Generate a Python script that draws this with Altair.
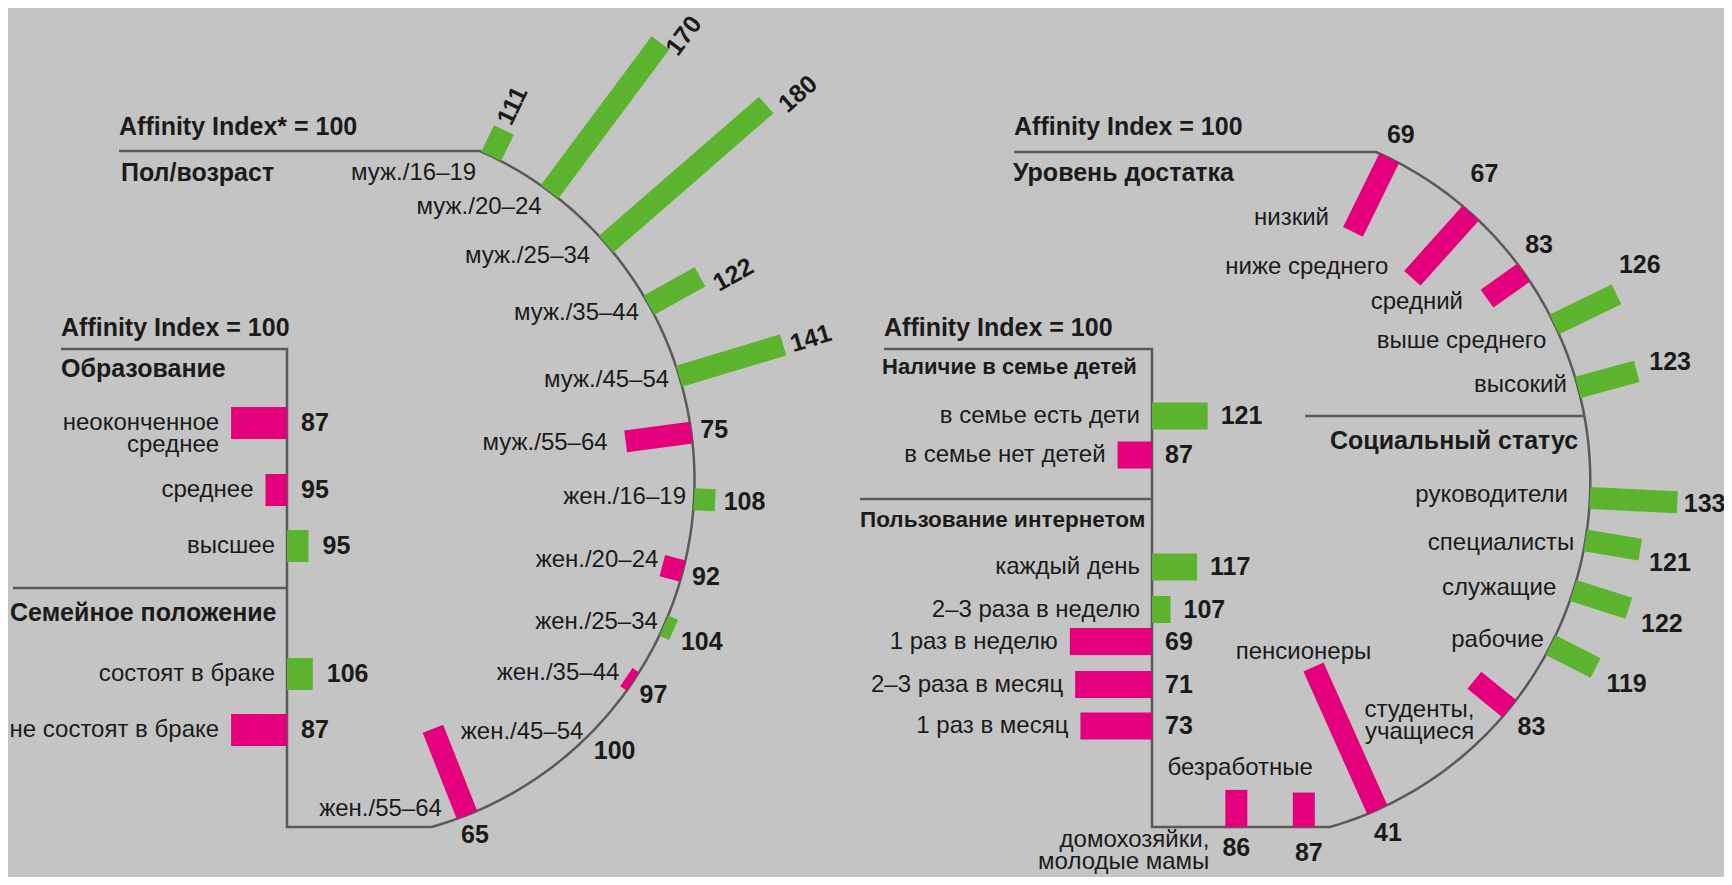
import math
import altair as alt
import pandas as pd

# ---------------- data ----------------
age_labels = ["муж./16–19", "муж./20–24", "муж./25–34", "муж./35–44", "муж./45–54",
              "муж./55–64", "жен./16–19", "жен./20–24", "жен./25–34", "жен./35–44",
              "жен./45–54", "жен./55–64"]
age_values = [111, 170, 180, 122, 141, 75, 108, 92, 104, 97, 100, 65]

wealth_labels = ["низкий", "ниже среднего", "средний", "выше среднего", "высокий"]
wealth_values = [69, 67, 83, 126, 123]

status_labels = ["руководители", "специалисты", "служащие", "рабочие",
                 "студенты,\nучащиеся", "пенсионеры", "безработные",
                 "домохозяйки,\nмолодые мамы"]
status_values = [133, 121, 122, 119, 83, 41, 87, 86]

edu_labels = ["неоконченное\nсреднее", "среднее", "высшее"]
edu_values = [87, 95, 95]

marital_labels = ["состоят в браке", "не состоят в браке"]
marital_values = [106, 87]

kids_labels = ["в семье есть дети", "в семье нет детей"]
kids_values = [121, 87]

net_labels = ["каждый день", "2–3 раза в неделю", "1 раз в неделю",
              "2–3 раза в месяц", "1 раз в месяц"]
net_values = [117, 107, 69, 71, 73]

# ---------------- layout / style ----------------
BG = "#c4c4c4"
GREEN = "#5cb42e"
MAGENTA = "#e4007d"
LINE = "#5a5a5a"
INK = "#1b1b1b"
FONT = "Liberation Sans, Arial, Helvetica, sans-serif"

K = 2.65  # px per index point (radial charts and right bar panel)

LEFT = dict(cx=334.5, cy=480.3, r=360, top_y=151, top_x0=119, bottom_y=827,
            axis_x=287, inner_top=349, inner_x0=61)
RIGHT = dict(cx=1230.3, cy=481.1, r=360, top_y=152, top_x0=1014, bottom_y=827,
             axis_x=1152, inner_top=349, inner_x0=884)

age_angles = [64.2, 53.3, 41.0, 29.1, 16.8, 7.6, -3.0, -14.6, -23.8, -34.0, -44.0, -68.4]
age_lab_off = [(-15, 17), (-8, 15), (-16, 12), (-10, 8), (-10, 4), (-18, 1.5),
               (-8, -2), (-4, -6), (-6, -4), (-7, -4), (-10, 2), (9, 80)]
age_lab_align = ["right"] * 12
age_val_nudge = [(-4, 2), (6, 16), (10, 8), (8, 12), (0, 2), (0, 0),
                 (0, 0), (0, 0), (0, 0), (0, 0), (0, 0), (0, 0)]

wealth_angles = [63.8, 48.1, 35.4, 25.8, 15.1]
wealth_lab_off = [(-24, -14), (-24, -11), (-24, 3), (-8, 17), (-11, -2)]
wealth_lab_align = ["right"] * 5
wealth_val_nudge = [(0, 0), (-5, -18), (-8, -11), (-8, -14), (0, 0)]

status_angles = [-2.7, -9.5, -17.7, -27.1, -39.2, -65.9, -78.0, -89.0]
status_lab_off = [(-22, -3), (-11, 2.5), (-17, -2.5), (-7, -5), (0, 30),
                  (-10, -15), (9, -25), (-27, 50)]
status_lab_align = ["right", "right", "right", "right", "right", "center", "right", "right"]
status_val_nudge = [(-6, 0), (-4, 8), (0, 5), (0, 0), (0, 0), (0, 0), (5, 5), (0, 0)]

edu_rows = [423, 490, 546]
edu_side = [-1, -1, 1]          # the reference draws "высшее" as a bar to the right
marital_rows = [674, 730]
kids_rows = [416, 455]
net_rows = [567, 609.5, 641.5, 684.5, 726]
K_LEFT_PANEL = 4.3


def radial(labels, values, angles, geo, lab_off, lab_align, val_nudge, gap, rot_min=None):
    bars, cats, vals = [], [], []
    for lab, v, a, (ldx, ldy), al, (ndx, ndy) in zip(labels, values, angles, lab_off,
                                                     lab_align, val_nudge):
        t = math.radians(a)
        ux, uy = math.cos(t), -math.sin(t)
        by = geo["cy"] + geo["r"] * uy
        if by > geo["bottom_y"]:
            s = (geo["bottom_y"] - geo["cy"]) / uy
            bx, by = geo["cx"] + s * ux, geo["bottom_y"]
            ux, uy = 0.0, 1.0
        else:
            bx = geo["cx"] + geo["r"] * ux
        L = K * (v - 100)
        ex, ey = bx + L * ux, by + L * uy
        if v != 100:
            bars.append(dict(x=bx, y=by, x2=ex, y2=ey, col="up" if v > 100 else "down",
                             w=22))
        ox, oy = (ex, ey) if v > 100 else (bx, by)
        ix, iy = (bx, by) if v >= 100 else (ex, ey)
        cats.append(dict(x=ix + ldx, y=iy + ldy, text=lab, align=al))
        txt = str(v)
        wdt = 14 * len(txt)
        if rot_min is not None and a > rot_min:
            d = gap + wdt / 2
            rot = 360 - a
        else:
            d = gap + abs(ux) * wdt / 2 + abs(uy) * 9
            rot = 0
        vals.append(dict(x=ox + d * ux + ndx, y=oy + d * uy + ndy, text=txt, rot=rot))
    return bars, cats, vals


def outline(geo, name):
    pts = [(geo["top_x0"], geo["top_y"])]
    a0 = math.asin((geo["cy"] - geo["top_y"]) / geo["r"])
    a1 = -math.asin((geo["bottom_y"] - geo["cy"]) / geo["r"])
    n = 120
    for i in range(n + 1):
        a = a0 + (a1 - a0) * i / n
        pts.append((geo["cx"] + geo["r"] * math.cos(a), geo["cy"] - geo["r"] * math.sin(a)))
    pts += [(geo["axis_x"], geo["bottom_y"]), (geo["axis_x"], geo["inner_top"]),
            (geo["inner_x0"], geo["inner_top"])]
    return [dict(path=name, i=i, x=x, y=y) for i, (x, y) in enumerate(pts)]


def hbars(labels, values, rows, axis, k, h, sides=None, lgap=12, vgap=13):
    bars, labs, vals = [], [], []
    for j, (lab, v, y) in enumerate(zip(labels, values, rows)):
        delta = v - 100
        if sides is not None:
            delta = abs(delta) * sides[j]
        xe = axis + k * delta
        bars.append(dict(x=axis, y=y, x2=xe, y2=y, col="up" if delta > 0 else "down", w=h))
        labs.append(dict(x=min(axis, xe) - lgap, y=y, text=lab))
        vals.append(dict(x=max(axis, xe) + vgap, y=y, text=str(v)))
    return bars, labs, vals


# radial charts
b1, c1, v1 = radial(age_labels, age_values, age_angles, LEFT, age_lab_off, age_lab_align,
                    age_val_nudge, gap=8, rot_min=12)
b2, c2, v2 = radial(wealth_labels, wealth_values, wealth_angles, RIGHT, wealth_lab_off,
                    wealth_lab_align, wealth_val_nudge, gap=12)
b3, c3, v3 = radial(status_labels, status_values, status_angles, RIGHT, status_lab_off,
                    status_lab_align, status_val_nudge, gap=12)

# inner bar panels
h1, l1, w1 = hbars(edu_labels, edu_values, edu_rows, LEFT["axis_x"], K_LEFT_PANEL, 32,
                   edu_side, lgap=12, vgap=14)
h2, l2, w2 = hbars(marital_labels, marital_values, marital_rows, LEFT["axis_x"],
                   K_LEFT_PANEL, 32, lgap=12, vgap=14)
h3, l3, w3 = hbars(kids_labels, kids_values, kids_rows, RIGHT["axis_x"], K, 27)
h4, l4, w4 = hbars(net_labels, net_values, net_rows, RIGHT["axis_x"], K, 27)

bars_df = pd.DataFrame(b1 + b2 + b3 + h1 + h2 + h3 + h4)
cats_df = pd.DataFrame(c1 + c2 + c3)
vals_df = pd.DataFrame(v1 + v2 + v3)
ilab_df = pd.DataFrame(l1 + l2 + l3 + l4)
ival_df = pd.DataFrame(w1 + w2 + w3 + w4)

sep_y_right = 416
sep_x_end = RIGHT["cx"] + math.sqrt(RIGHT["r"] ** 2 - (sep_y_right - RIGHT["cy"]) ** 2)
lines = outline(LEFT, "L") + outline(RIGHT, "R")
lines += [dict(path="s1", i=0, x=13, y=588), dict(path="s1", i=1, x=LEFT["axis_x"], y=588),
          dict(path="s2", i=0, x=860, y=499), dict(path="s2", i=1, x=RIGHT["axis_x"], y=499),
          dict(path="s3", i=0, x=1305, y=sep_y_right),
          dict(path="s3", i=1, x=sep_x_end, y=sep_y_right)]
lines_df = pd.DataFrame(lines)

titles_df = pd.DataFrame([
    dict(x=119, y=127, text="Affinity Index* = 100", fs=25),
    dict(x=121, y=173, text="Пол/возраст", fs=25),
    dict(x=1014, y=127, text="Affinity Index = 100", fs=25),
    dict(x=1013, y=173, text="Уровень достатка", fs=25),
    dict(x=61, y=328, text="Affinity Index = 100", fs=25),
    dict(x=61, y=369, text="Образование", fs=25),
    dict(x=10, y=613, text="Семейное положение", fs=25),
    dict(x=884, y=328, text="Affinity Index = 100", fs=25),
    dict(x=882, y=367, text="Наличие в семье детей", fs=22),
    dict(x=860, y=520, text="Пользование интернетом", fs=22.5),
    dict(x=1330, y=441, text="Социальный статус", fs=25),
])

XS = alt.Scale(domain=[8, 1724], nice=False, zero=False)
YS = alt.Scale(domain=[877, 8], nice=False, zero=False)
X = alt.X("x:Q", scale=XS, axis=None)
Y = alt.Y("y:Q", scale=YS, axis=None)
COL = alt.Color("col:N", scale=alt.Scale(domain=["up", "down"], range=[GREEN, MAGENTA]),
                legend=None)

outline_layer = alt.Chart(lines_df).mark_line(color=LINE, strokeWidth=2.5).encode(
    x=X, y=Y, detail="path:N", order="i:Q")

bars_layer = alt.Chart(bars_df).mark_rule(strokeCap="butt").encode(
    x=X, y=Y, x2="x2:Q", y2="y2:Q", color=COL,
    strokeWidth=alt.StrokeWidth("w:Q", scale=None))

cat_right = alt.Chart(cats_df).transform_filter(alt.datum.align == "right").mark_text(
    align="right", baseline="middle", font=FONT, fontSize=24, color=INK,
    lineBreak="\n", lineHeight=22).encode(x=X, y=Y, text="text:N")

cat_center = alt.Chart(cats_df).transform_filter(alt.datum.align == "center").mark_text(
    align="center", baseline="middle", font=FONT, fontSize=24, color=INK,
    lineBreak="\n", lineHeight=22).encode(x=X, y=Y, text="text:N")

val_layer = alt.Chart(vals_df).mark_text(
    align="center", baseline="middle", font=FONT, fontSize=25, fontWeight="bold",
    color=INK).encode(x=X, y=Y, text="text:N", angle=alt.Angle("rot:Q", scale=None))

ilab_layer = alt.Chart(ilab_df).mark_text(
    align="right", baseline="middle", font=FONT, fontSize=24, color=INK,
    lineBreak="\n", lineHeight=22).encode(x=X, y=Y, text="text:N")

ival_layer = alt.Chart(ival_df).mark_text(
    align="left", baseline="middle", font=FONT, fontSize=25, fontWeight="bold",
    color=INK).encode(x=X, y=Y, text="text:N")

title_layer = alt.Chart(titles_df).mark_text(
    align="left", baseline="middle", font=FONT, fontWeight="bold",
    color=INK).encode(x=X, y=Y, text="text:N", size=alt.Size("fs:Q", scale=None))

chart = alt.layer(outline_layer, bars_layer, cat_right, cat_center, val_layer,
                  ilab_layer, ival_layer, title_layer).properties(
    width=1716, height=869, autosize=alt.AutoSizeParams(type="none"), padding=0,
    background=BG).configure_view(stroke=None)

chart.save("out.html", embed_options={"renderer": "svg", "actions": False})
